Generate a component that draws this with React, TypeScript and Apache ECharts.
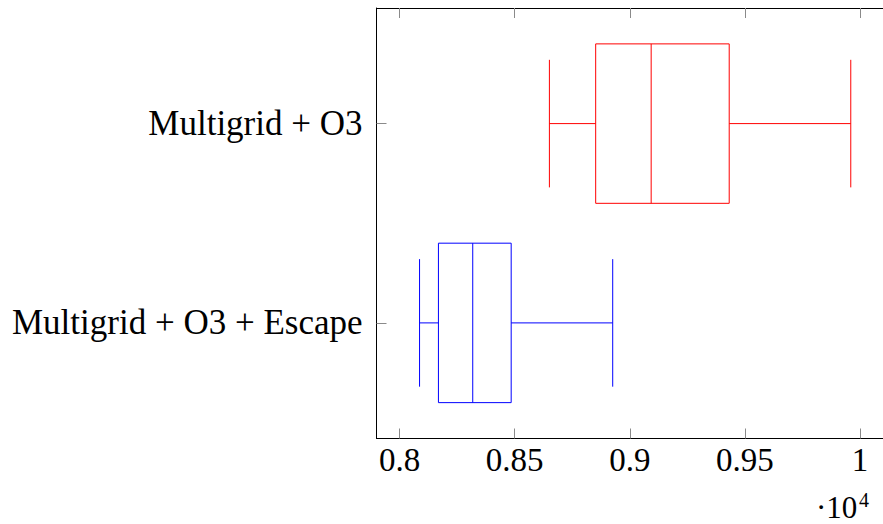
import React, { useEffect, useRef } from "react";
import * as echarts from "echarts";

const categories = ["Multigrid + O3", "Multigrid + O3 + Escape"];
const lowWhisker = [8651, 8087];
const lowerQuartile = [8852, 8169];
const medianValue = [9093, 8318];
const upperQuartile = [9432, 8485];
const highWhisker = [9960, 8926];
const xTickValues = [8000, 8500, 9000, 9500, 10000];
const boxColors = ["#ff0000", "#0000ff"];

const FONT = "Liberation Serif";

export default function App() {
  const ref = useRef<HTMLDivElement>(null);
  useEffect(() => {
    if (!ref.current) return;
    const chart = echarts.init(ref.current, null, { renderer: "svg" });
    const data = categories.map((c, i) => ({
      value: [i + 1, lowWhisker[i], lowerQuartile[i], medianValue[i], upperQuartile[i], highWhisker[i]],
      itemStyle: { color: boxColors[i] },
    }));
    const tickStyle = { color: "#8a8a8a", width: 1 };
    const option: any = {
      animation: false,
      grid: { left: 376.5, top: 8, width: 507, height: 430.5, containLabel: false },
      xAxis: [
        {
          type: "value",
          min: 7900,
          max: 10100,
          position: "bottom",
          splitLine: { show: false },
          axisLine: { show: true, onZero: false, lineStyle: { color: "#000", width: 1 } },
          axisTick: { show: true, inside: true, length: 10, customValues: xTickValues, lineStyle: tickStyle },
          axisLabel: {
            customValues: xTickValues,
            formatter: (v: number) => String(+(v / 10000).toFixed(2)),
            fontFamily: FONT,
            fontSize: 33,
            color: "#000",
            margin: 5,
          },
        },
        {
          type: "value",
          min: 7900,
          max: 10100,
          position: "top",
          splitLine: { show: false },
          axisLine: { show: true, onZero: false, lineStyle: { color: "#000", width: 1 } },
          axisTick: { show: true, inside: true, length: 10, customValues: xTickValues, lineStyle: tickStyle },
          axisLabel: { show: false },
        },
      ],
      yAxis: {
        type: "value",
        inverse: true,
        min: 0.42,
        max: 2.58,
        splitLine: { show: false },
        axisLine: { show: true, onZero: false, lineStyle: { color: "#000", width: 1 } },
        axisTick: { show: true, inside: true, length: 10, customValues: [1, 2], lineStyle: tickStyle },
        axisLabel: {
          customValues: [1, 2],
          formatter: (v: number) => categories[Math.round(v) - 1] ?? "",
          fontFamily: FONT,
          fontSize: 35,
          color: "#000",
          margin: 14,
        },
      },
      series: [
        {
          type: "custom",
          xAxisIndex: 0,
          yAxisIndex: 0,
          clip: false,
          encode: { x: [1, 2, 3, 4, 5], y: 0 },
          data,
          renderItem: (params: any, api: any) => {
            const y = api.value(0);
            const lo = api.value(1);
            const q1 = api.value(2);
            const md = api.value(3);
            const q3 = api.value(4);
            const hi = api.value(5);
            const color = boxColors[params.dataIndex];
            const boxHalf = 0.4;
            const capHalf = 0.32;
            const p = (x: number, yy: number) => api.coord([x, yy]);
            const st = { stroke: color, lineWidth: 1, fill: "none" };
            const line = (a: number[], b: number[]) => ({
              type: "line",
              shape: { x1: a[0], y1: a[1], x2: b[0], y2: b[1] },
              style: st,
            });
            const tl = p(q1, y - boxHalf);
            const br = p(q3, y + boxHalf);
            return {
              type: "group",
              children: [
                line(p(lo, y), p(q1, y)),
                line(p(lo, y - capHalf), p(lo, y + capHalf)),
                line(p(q3, y), p(hi, y)),
                line(p(hi, y - capHalf), p(hi, y + capHalf)),
                {
                  type: "rect",
                  shape: { x: tl[0], y: tl[1], width: br[0] - tl[0], height: br[1] - tl[1] },
                  style: st,
                },
                line(p(md, y - boxHalf), p(md, y + boxHalf)),
              ],
            };
          },
        },
      ],
      graphic: [
        {
          type: "text",
          left: 816,
          top: 492,
          style: { text: "·10", fontFamily: FONT, fontSize: 31, fill: "#000" },
        },
        {
          type: "text",
          left: 859,
          top: 490,
          style: { text: "4", fontFamily: FONT, fontSize: 20, fill: "#000" },
        },
      ],
    };
    chart.setOption(option);
    return () => chart.dispose();
  }, []);
  return (
    <div
      ref={ref}
      style={{ position: "fixed", left: 0, top: 0, width: 883, height: 524, background: "#fff" }}
    />
  );
}
